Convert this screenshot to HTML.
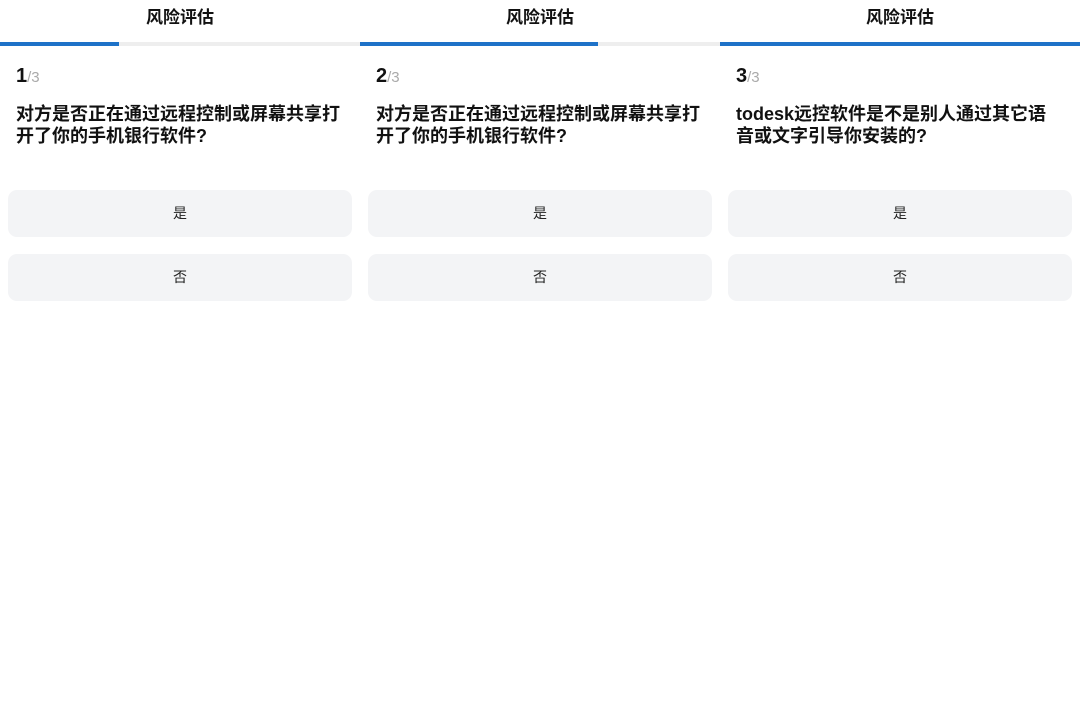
<!DOCTYPE html>
<html><head><meta charset="utf-8"><style>
*{margin:0;padding:0;box-sizing:border-box}
body{width:1080px;height:714px;background:#fff;position:relative;overflow:hidden;font-family:"Liberation Sans","Noto Sans CJK SC",sans-serif;color:#111}
.p{position:absolute;top:0;width:360px;height:714px}
.t{position:absolute;top:7px;left:0;width:360px;text-align:center;font-size:17px;font-weight:bold;line-height:22px}
.track{position:absolute;top:42px;left:0;width:360px;height:4px;background:#eeeeee}
.bar{position:absolute;top:0;left:0;height:4px;background:#1e72c8}
.n{position:absolute;left:16px;top:63px;font-size:20px;font-weight:bold;line-height:26px}
.n span{font-size:15px;font-weight:normal;color:#aaa}
.q{position:absolute;left:16px;top:103px;font-size:18px;font-weight:bold;line-height:22px;white-space:nowrap}
.b{position:absolute;left:8px;width:344px;height:47px;background:#f3f4f6;border-radius:9px;text-align:center;line-height:47px;font-size:14px;color:#222}
</style></head><body>
<div class="p" style="left:0">
<div class="t">风险评估</div><div class="track"><div class="bar" style="width:119px"></div></div>
<div class="n">1<span>/3</span></div>
<div class="q">对方是否正在通过远程控制或屏幕共享打<br>开了你的手机银行软件?</div>
<div class="b" style="top:190px">是</div><div class="b" style="top:254px">否</div>
</div>
<div class="p" style="left:360px">
<div class="t">风险评估</div><div class="track"><div class="bar" style="width:238px"></div></div>
<div class="n">2<span>/3</span></div>
<div class="q">对方是否正在通过远程控制或屏幕共享打<br>开了你的手机银行软件?</div>
<div class="b" style="top:190px">是</div><div class="b" style="top:254px">否</div>
</div>
<div class="p" style="left:720px">
<div class="t">风险评估</div><div class="track"><div class="bar" style="width:360px"></div></div>
<div class="n">3<span>/3</span></div>
<div class="q">todesk远控软件是不是别人通过其它语<br>音或文字引导你安装的?</div>
<div class="b" style="top:190px">是</div><div class="b" style="top:254px">否</div>
</div>
</body></html>
